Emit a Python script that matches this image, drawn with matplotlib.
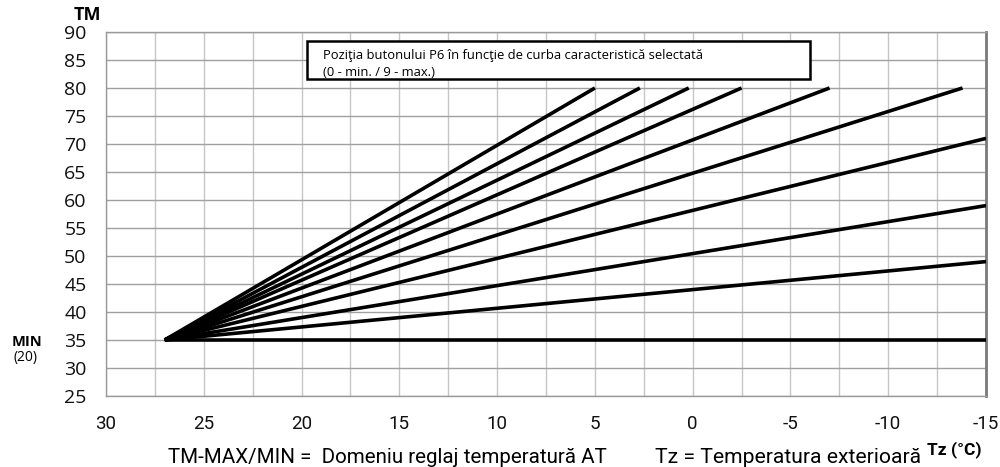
import matplotlib
matplotlib.use("Agg")
import matplotlib.pyplot as plt
from matplotlib.patches import Rectangle
from matplotlib import font_manager

# Heating curves: flow temperature TM versus outdoor temperature Tz
start_tz = 27.0
start_tm = 35.0
curve_end_tz = [-15.0, -15.0, -15.0, -15.0, -13.8, -7.0, -2.5, 0.2, 2.7, 5.0]
curve_end_tm = [35.0, 49.0, 59.0, 71.0, 80.0, 80.0, 80.0, 80.0, 80.0, 80.0]

x_ticks = [30, 25, 20, 15, 10, 5, 0, -5, -10, -15]
y_ticks = [25, 30, 35, 40, 45, 50, 55, 60, 65, 70, 75, 80, 85, 90]

installed = {f.name for f in font_manager.fontManager.ttflist}
narrow = 'Liberation Sans Narrow' if 'Liberation Sans Narrow' in installed else 'Roboto'

plt.rcParams['font.family'] = ['Open Sans', 'DejaVu Sans']

fig = plt.figure(figsize=(10, 4.67), dpi=100)
ax = fig.add_axes([0.106, 0.152, 0.880, 0.7795])

ax.set_xlim(30, -15)
ax.set_ylim(25, 90)

# grid: verticals every 2.5, horizontals every 5
for v in [30 - 2.5 * i for i in range(19)]:
    ax.axvline(v, color='#c6c6c6', lw=1.0, zorder=0)
for h in y_ticks:
    ax.axhline(h, color='#a0a0a0', lw=1.0, zorder=0)

for tz_end, tm_end in zip(curve_end_tz, curve_end_tm):
    ax.plot([start_tz, tz_end], [start_tm, tm_end], color='black', lw=2.6,
            solid_capstyle='butt', zorder=3)

ax.set_xticks(x_ticks)
ax.set_xticklabels([str(t) for t in x_ticks], family=[narrow, 'DejaVu Sans'])
ax.set_yticks(y_ticks)
ax.set_yticklabels([str(t) for t in y_ticks])
ax.tick_params(axis='x', length=0, pad=14, labelsize=13.5, labelcolor='#111111')
ax.tick_params(axis='y', length=0, pad=14, labelsize=14, labelcolor='#111111')

for side in ['left', 'top', 'bottom']:
    ax.spines[side].set_color('#9a9a9a')
    ax.spines[side].set_linewidth(1.0)
ax.spines['right'].set_color('#7a7a7a')
ax.spines['right'].set_linewidth(2.0)

# caption box
box = Rectangle((0.307, 0.831), 0.503, 0.081, transform=fig.transFigure,
                facecolor='white', edgecolor='black', lw=1.8, zorder=5)
fig.patches.append(box)
fig.text(0.323, 0.882, 'Poziţia butonului P6 în funcţie de curba caracteristică selectată',
         fontsize=9.4, va='center', ha='left', zorder=6)
fig.text(0.323, 0.845, '(0 - min. / 9 - max.)', fontsize=9.4, va='center', ha='left', zorder=6)

fig.text(0.0875, 0.968, 'TM', fontsize=13, fontweight='bold', ha='center', va='center')
fig.text(0.027, 0.267, 'MIN', fontsize=10.5, fontweight='bold', ha='center', va='center')
fig.text(0.026, 0.234, '(20)', fontsize=10, ha='center', va='center')

fig.text(0.168, 0.021, 'TM-MAX/MIN =  Domeniu reglaj temperatură AT', fontsize=14.8,
         family=[narrow, 'DejaVu Sans'], ha='left', va='center')
fig.text(0.655, 0.021, 'Tz = Temperatura exterioară', fontsize=15.2,
         family=[narrow, 'DejaVu Sans'], ha='left', va='center')
fig.text(0.927, 0.038, 'Tz (°C)', fontsize=12.5, fontweight='bold',
         family=[narrow, 'DejaVu Sans'], ha='left', va='center')

fig.savefig('out.png', dpi=100)
